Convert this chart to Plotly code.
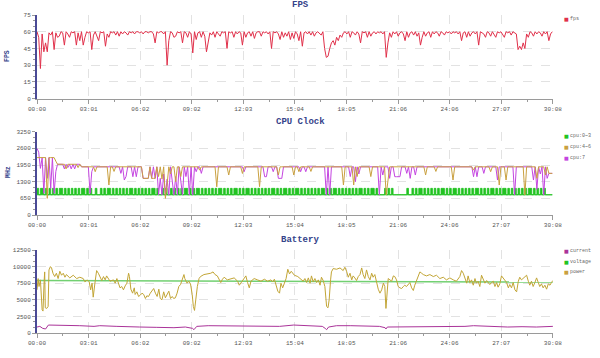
import plotly.graph_objects as go

# ---------------- data ----------------
tick_secs = [0, 181, 362, 542, 723, 904, 1085, 1266, 1446, 1627, 1808]
tick_text = ["00:00", "03:01", "06:02", "09:02", "12:03", "15:04",
             "18:05", "21:06", "24:06", "27:07", "30:08"]
step_sec = 6  # sampling interval of fps / cpu series

fps = [
    60, 55, 27, 58, 42, 50, 42, 59, 57, 60, 44, 59, 55, 56, 60, 59, 48, 60, 58, 55,
    60, 59, 60, 48, 59, 52, 60, 48, 55, 60, 59, 60, 44, 57, 60, 56, 52, 60, 59, 60,
    47, 58, 55, 60, 59, 60, 57, 60, 56, 60, 58, 60, 59, 57, 60, 59, 60, 58, 60, 60,
    59, 60, 58, 60, 60, 59, 60, 60, 58, 50, 60, 59, 60, 60, 58, 60, 30, 52, 60, 59,
    55, 56, 60, 59, 60, 50, 60, 59, 55, 60, 58, 41, 60, 53, 59, 60, 55, 60, 56, 42,
    52, 59, 57, 60, 55, 60, 58, 56, 60, 59, 60, 45, 60, 59, 60, 55, 60, 58, 60, 59,
    48, 60, 55, 59, 60, 56, 60, 54, 59, 60, 60, 56, 60, 59, 60, 58, 60, 45, 60, 59,
    60, 58, 53, 60, 55, 59, 56, 60, 53, 59, 54, 60, 58, 52, 60, 47, 59, 60, 58, 60,
    57, 60, 56, 59, 60, 58, 57, 60, 45, 37, 38, 45, 50, 52, 48, 55, 52, 57, 55, 59,
    60, 58, 60, 55, 60, 59, 57, 60, 58, 50, 60, 59, 60, 55, 60, 56, 59, 60, 58, 60,
    59, 60, 58, 60, 37, 50, 59, 55, 60, 58, 60, 56, 59, 60, 58, 52, 60, 55, 59, 60,
    57, 60, 56, 59, 48, 55, 60, 56, 59, 60, 55, 60, 58, 60, 59, 56, 60, 59, 57, 60,
    59, 60, 58, 60, 59, 60, 58, 60, 52, 59, 60, 55, 60, 56, 59, 60, 58, 60, 48, 60,
    59, 58, 55, 60, 59, 56, 60, 58, 55, 60, 59, 60, 58, 55, 60, 59, 60, 57, 60, 59,
    58, 44, 47, 44, 50, 45, 58, 55, 60, 59, 56, 60, 58, 60, 59, 56, 60, 58, 60, 52,
    58, 60,
]

# cpu 0~3 toggles between a high and a low clock
cpu_low = 790
cpu_0_3 = [
    1040, 790, 1040, 1040, 790, 1040, 790, 1040, 790, 1040,
    790, 1040, 790, 1040, 1040, 790, 1040, 790, 1040, 790,
    1040, 790, 1040, 790, 1040, 790, 1040, 1040, 790, 1040,
    790, 1040, 790, 790, 1040, 790, 790, 1040, 790, 1040,
    790, 1040, 1040, 790, 1040, 790, 1040, 790, 1040, 790,
    1040, 790, 1040, 790, 1040, 1040, 790, 1040, 790, 1040,
    790, 1040, 790, 1040, 790, 1040, 790, 1040, 1040, 790,
    1040, 790, 790, 1040, 790, 1040, 790, 790, 1040, 790,
    1040, 790, 1040, 790, 1040, 790, 1040, 1040, 790, 1040,
    790, 1040, 790, 1040, 1040, 790, 1040, 790, 1040, 790,
    1040, 790, 1040, 790, 1040, 790, 1040, 1040, 790, 1040,
    790, 1040, 790, 1040, 790, 1040, 1040, 790, 1040, 790,
    1040, 790, 1040, 1040, 790, 1040, 790, 1040, 790, 1040,
    790, 1040, 790, 1040, 790, 1040, 790, 1040, 1040, 790,
    1040, 790, 1040, 790, 1040, 1040, 790, 1040, 790, 1040,
    790, 1040, 1040, 790, 1040, 790, 1040, 790, 1040, 790,
    1040, 790, 1040, 790, 1040, 790, 1040, 1040, 790, 1040,
    790, 1040, 790, 1040, 1040, 790, 1040, 790, 1040, 790,
    1040, 790, 1040, 790, 1040, 790, 1040, 790, 1040, 1040,
    790, 1040, 790, 1040, 790, 1040, 1040, 790, 1040, 790,
    790, 790, 790, 1040, 790, 1040, 790, 1040, 790, 790,
    790, 790, 790, 790, 790, 790, 1040, 790, 790, 1040,
    790, 1040, 790, 1040, 1040, 790, 1040, 790, 1040, 790,
    1040, 790, 1040, 790, 1040, 790, 1040, 1040, 790, 1040,
    790, 1040, 790, 1040, 1040, 790, 1040, 790, 1040, 790,
    1040, 790, 1040, 790, 1040, 790, 1040, 1040, 790, 1040,
    790, 1040, 790, 1040, 790, 1040, 1040, 790, 1040, 790,
    1040, 790, 1040, 1040, 790, 1040, 790, 1040, 790, 1040,
    790, 1040, 790, 1040, 790, 1040, 790, 1040, 1040, 790,
    1040, 790, 1040, 790, 1040, 790, 1040, 790, 790, 790,
    790, 790,
]

cpu_4_6 = [
    2240, 2240, 2240, 2240, 2240, 2240, 650, 2240, 2240, 2240,
    2240, 2100, 1980, 1980, 1980, 1980, 1980, 1800, 1980, 1980,
    1980, 1980, 1980, 1980, 1850, 1980, 1880, 1880, 1880, 1880,
    1880, 1880, 1880, 1880, 1690, 1880, 1880, 1880, 1880, 1880,
    1880, 1880, 1170, 1880, 1880, 1700, 1880, 1880, 1880, 1880,
    1880, 1880, 1880, 1880, 1880, 1880, 1880, 1880, 1880, 1880,
    1880, 1880, 1430, 1430, 1430, 1430, 1880, 1430, 1430, 1430,
    1880, 1500, 1880, 1400, 1880, 650, 1200, 1880, 1600, 1880,
    1880, 1300, 1880, 1880, 1500, 1880, 1880, 1880, 1880, 1880,
    1880, 1880, 1880, 1880, 1880, 1750, 1880, 1880, 1880, 1880,
    1880, 1880, 1880, 1880, 1880, 1100, 1880, 1880, 1880, 1880,
    1880, 1880, 1560, 1880, 1880, 1880, 1880, 1880, 1880, 1880,
    1620, 1880, 1880, 1880, 1880, 1880, 1880, 1880, 1880, 1880,
    1105, 1880, 1880, 1880, 1880, 1880, 1880, 1880, 1880, 1880,
    1880, 1560, 1880, 1880, 1880, 1880, 1880, 1880, 1880, 1880,
    1560, 1880, 1880, 1690, 1880, 1880, 1880, 1880, 1880, 1880,
    1700, 1880, 1880, 1880, 1880, 1880, 1880, 1880, 1880, 1880,
    1880, 1880, 1880, 1880, 1880, 1880, 1880, 1880, 1880, 1170,
    1880, 1880, 1880, 1880, 1880, 1170, 1880, 1500, 1880, 1880,
    1880, 1880, 1880, 1880, 1880, 1500, 1880, 1880, 1880, 1880,
    1880, 1880, 1880, 1880, 780, 1400, 1880, 1880, 1880, 1880,
    1880, 1880, 1880, 1880, 1880, 1880, 1880, 1880, 1880, 1880,
    1880, 1880, 1880, 1880, 1880, 1880, 1880, 1560, 1880, 1880,
    1880, 1880, 1880, 1700, 1880, 1880, 1880, 1880, 1880, 1880,
    1880, 1880, 1880, 1365, 1880, 1880, 1880, 1880, 1880, 1880,
    1880, 1880, 1880, 1880, 1880, 1750, 1880, 1880, 1880, 1880,
    1880, 1880, 1880, 1880, 1880, 1690, 1880, 1880, 1880, 1880,
    1170, 1880, 1880, 1880, 1365, 1880, 1880, 1880, 1880, 1880,
    1880, 1880, 1880, 1880, 1880, 780, 1880, 1880, 1880, 1880,
    1880, 1880, 1430, 1880, 1880, 1880, 1880, 1560, 1880, 1625,
    1625, 1625,
]

cpu_7 = [
    2600, 2450, 1820, 2240, 845, 2240, 1430, 2240, 1040, 2240,
    845, 1700, 1980, 1980, 1980, 1980, 1800, 1980, 1850, 1980,
    1800, 1980, 1800, 1980, 1980, 1980, 1880, 1880, 1880, 1880,
    1880, 845, 1690, 1880, 1880, 1880, 1880, 1880, 1880, 1880,
    1880, 1880, 1880, 1880, 1880, 1880, 1880, 1880, 1880, 1625,
    1880, 1365, 1500, 1880, 1880, 1880, 1495, 1880, 1495, 1880,
    1880, 1880, 1430, 1430, 1430, 1430, 1880, 1430, 1880, 1430,
    1880, 780, 1430, 780, 1600, 780, 1400, 780, 1880, 1200,
    780, 1500, 780, 1880, 1400, 780, 1880, 1500, 1880, 780,
    1880, 780, 1880, 1690, 1880, 1880, 1625, 1880, 1880, 1880,
    1880, 1880, 1880, 1880, 1880, 1880, 1880, 1880, 1880, 1880,
    1880, 1880, 1880, 1880, 1880, 1880, 1880, 1880, 1880, 1880,
    1880, 1690, 1880, 1880, 1880, 1880, 1880, 1880, 1880, 1880,
    1880, 1880, 1880, 1495, 1495, 1880, 1880, 1880, 1690, 1880,
    1880, 1430, 1430, 1430, 1880, 1880, 1880, 1880, 1880, 1880,
    1880, 1880, 1880, 1880, 1690, 1880, 1880, 1690, 1880, 1880,
    1880, 1880, 1880, 1880, 1880, 1880, 1880, 1880, 1880, 780,
    1880, 780, 1880, 1880, 1880, 1880, 1880, 1880, 1880, 1880,
    1880, 1880, 1880, 1500, 1880, 1880, 1300, 1880, 1600, 1880,
    1880, 1880, 1880, 1880, 1880, 1880, 1880, 1880, 1880, 1880,
    780, 1880, 1560, 1880, 1880, 1880, 1430, 1880, 1880, 1495,
    1495, 1495, 1495, 1880, 1880, 1880, 1625, 1880, 1430, 1880,
    1880, 1560, 1880, 1880, 1880, 1880, 1880, 1880, 1880, 1880,
    1880, 1880, 1880, 1880, 1880, 1880, 1880, 1880, 1880, 1880,
    1880, 1880, 1880, 1880, 1880, 1880, 1880, 1880, 1880, 1880,
    1880, 1880, 1880, 1880, 1880, 1495, 1880, 1495, 1880, 1880,
    1880, 1625, 1880, 1880, 1880, 1880, 1880, 1880, 1880, 1365,
    1880, 1880, 1880, 1880, 1880, 1880, 1880, 1880, 1880, 780,
    1880, 1880, 1880, 1880, 1880, 1880, 1880, 1880, 1880, 1880,
    1365, 1880, 1000, 1880, 1600, 1880, 780, 1880, 1430, 1625,
    1625, 1625,
]

power_t = [
    0, 4, 7, 12, 18, 21, 25, 27, 29, 34, 39, 42, 47, 51, 56, 62, 68, 74, 80, 86,
    92, 98, 103, 115, 127, 139, 150, 162, 168, 176, 183, 188, 193, 197, 203, 209,
    215, 221, 227, 233, 239, 244, 250, 256, 268, 274, 280, 286, 291, 297, 303, 309,
    315, 321, 324, 329, 335, 341, 344, 350, 356, 362, 368, 374, 380, 385, 391, 397,
    403, 409, 415, 421, 427, 432, 438, 444, 450, 456, 462, 468, 474, 479, 485, 491,
    497, 503, 509, 515, 518, 522, 526, 532, 538, 544, 548, 552, 557, 562, 568, 573,
    585, 597, 609, 617, 624, 632, 638, 644, 650, 656, 667, 679, 691, 703, 709, 714,
    726, 732, 738, 744, 750, 761, 773, 785, 797, 808, 820, 826, 832, 844, 850, 855,
    861, 867, 873, 879, 885, 891, 902, 914, 922, 933, 939, 945, 951, 957, 962, 968,
    974, 980, 986, 992, 997, 1003, 1009, 1015, 1020, 1024, 1029, 1032, 1038, 1050,
    1062, 1073, 1079, 1085, 1091, 1097, 1103, 1108, 1114, 1120, 1126, 1132, 1138,
    1143, 1149, 1155, 1161, 1167, 1173, 1178, 1184, 1190, 1196, 1202, 1208, 1214,
    1219, 1223, 1228, 1231, 1237, 1243, 1249, 1254, 1260, 1266, 1272, 1278, 1284,
    1289, 1295, 1301, 1307, 1313, 1319, 1324, 1330, 1336, 1342, 1348, 1354, 1365,
    1377, 1389, 1400, 1412, 1424, 1435, 1447, 1459, 1470, 1482, 1488, 1494, 1500,
    1506, 1511, 1517, 1523, 1529, 1535, 1540, 1546, 1552, 1558, 1564, 1570, 1576,
    1581, 1587, 1593, 1599, 1605, 1611, 1616, 1622, 1628, 1634, 1640, 1646, 1652,
    1657, 1663, 1669, 1675, 1681, 1687, 1692, 1698, 1704, 1710, 1716, 1722, 1727,
    1733, 1739, 1745, 1751, 1757, 1762, 1768, 1774, 1780, 1786, 1792, 1798, 1803,
    1808,
]
power_v = [
    6500, 8200, 7000, 8000, 3500, 3300, 7800, 9200, 3800, 3700, 4000, 9500, 10000,
    9800, 9000, 8500, 9000, 8200, 9300, 8700, 9000, 8400, 8800, 8300, 8700, 8200,
    8400, 8200, 7700, 8000, 7700, 6500, 7500, 5400, 7500, 9400, 9000, 8500, 7900,
    8500, 8000, 8600, 8200, 7800, 8000, 7500, 8200, 7200, 6800, 7000, 6500, 7100,
    7500, 9000, 8500, 6600, 6000, 6800, 5800, 6200, 5500, 5700, 6000, 5800, 5200,
    5600, 5500, 6000, 6300, 6700, 6000, 5500, 6600, 5200, 5000, 6200, 5300, 5800,
    6300, 5200, 5500, 5200, 5300, 6000, 7000, 7300, 8000, 8800, 8200, 7900, 7500,
    7800, 7400, 5800, 4000, 3400, 5500, 7000, 8200, 8500, 8800, 8900, 9000, 9200,
    8800, 8600, 8200, 7600, 8100, 8400, 8000, 8100, 8300, 7800, 7200, 7500, 8200,
    8600, 7600, 6800, 7800, 8200, 8000, 7800, 8100, 7800, 8000, 7700, 8100, 6300,
    6000, 7500, 6800, 7600, 8200, 9600, 8900, 9300, 8700, 8500, 8200, 7800, 8200,
    7600, 8300, 7500, 8600, 7700, 8200, 7600, 8000, 7200, 8400, 7900, 7000, 4000,
    3800, 5000, 8000, 9200, 9700, 9600, 9800, 9400, 9900, 9300, 8400, 9000, 8000,
    8600, 8300, 7900, 8500, 8800, 9800, 8800, 8200, 9500, 8500, 8000, 9000, 8400,
    8800, 7500, 6600, 6000, 6500, 7500, 7000, 3700, 7500, 8200, 8000, 7800, 8600,
    8500, 8000, 7000, 6800, 6700, 7000, 7200, 7000, 7300, 7600, 6800, 6400, 7200,
    7800, 8500, 9200, 9000, 8800, 8600, 8800, 8500, 8700, 8200, 8400, 8000, 8300,
    8000, 7800, 8500, 9400, 9000, 8200, 7500, 8600, 7600, 8000, 7200, 8200, 7500,
    7800, 7000, 8700, 8000, 7500, 7900, 7600, 7300, 7600, 7800, 7000, 7600, 6900,
    7400, 8600, 8200, 8000, 7600, 6800, 7300, 6800, 7600, 6500, 6200, 7800, 8400,
    8000, 8200, 8500, 8700, 7800, 7200, 7800, 7000, 7600, 8300, 7600, 7000, 7400,
    6800, 7200, 6600, 7400, 7200, 7600, 7900,
]

current_t = [0, 10, 20, 30, 40, 60, 100, 150, 200, 220, 280, 330, 360, 420, 480,
             520, 545, 550, 560, 600, 700, 760, 800, 850, 900, 950, 1000, 1010,
             1015, 1022, 1050, 1100, 1150, 1200, 1220, 1223, 1228, 1280, 1350,
             1400, 1450, 1500, 1530, 1600, 1650, 1700, 1750, 1808]
current_v = [900, 1000, 700, 600, 1200, 1200, 1100, 1100, 1000, 1100, 1000, 1000,
             900, 850, 800, 900, 700, 500, 1000, 1100, 1100, 1000, 1100, 1000,
             1200, 1100, 1000, 700, 500, 900, 1100, 1100, 1000, 1000, 800, 600,
             900, 900, 950, 1000, 1000, 1000, 1100, 1000, 900, 950, 900, 1000]

voltage_t = [0, 300, 600, 900, 1200, 1500, 1808]
voltage_v = [7900, 7870, 7820, 7780, 7740, 7700, 7680]

# ---------------- figure ----------------
C_FPS = "#e0304a"
C_G = "#22c322"
C_O = "#c9a040"
C_P = "#c445e0"
C_CUR = "#aa3399"
C_VOL = "#72d072"
C_PW = "#c2a535"

x_fps = [i * step_sec for i in range(len(fps))]
x_c03 = [i * step_sec for i in range(len(cpu_0_3))]
x_c46 = [i * step_sec for i in range(len(cpu_4_6))]
x_c7 = [i * step_sec for i in range(len(cpu_7))]

fig = go.Figure()
fig.add_trace(go.Scatter(x=x_fps, y=fps, mode="lines", name="fps",
                         line=dict(color=C_FPS, width=1), xaxis="x", yaxis="y"))
# low-clock baseline, then the toggling cpu 0~3 filled down to it
fig.add_trace(go.Scatter(x=[x_c03[0], x_c03[-1]], y=[cpu_low, cpu_low], mode="lines",
                         line=dict(color=C_G, width=1), hoverinfo="skip",
                         xaxis="x2", yaxis="y2"))
fig.add_trace(go.Scatter(x=x_c03, y=cpu_0_3, mode="lines", name="cpu:0~3",
                         line=dict(color=C_G, width=0.8, shape="hv"),
                         fill="tonexty", fillcolor=C_G, xaxis="x2", yaxis="y2"))
fig.add_trace(go.Scatter(x=x_c7, y=cpu_7, mode="lines", name="cpu:7",
                         line=dict(color=C_P, width=1), xaxis="x2", yaxis="y2"))
fig.add_trace(go.Scatter(x=x_c46, y=cpu_4_6, mode="lines", name="cpu:4~6",
                         line=dict(color=C_O, width=1), xaxis="x2", yaxis="y2"))
fig.add_trace(go.Scatter(x=current_t, y=current_v, mode="lines", name="current",
                         line=dict(color=C_CUR, width=1), xaxis="x3", yaxis="y3"))
fig.add_trace(go.Scatter(x=voltage_t, y=voltage_v, mode="lines", name="voltage",
                         line=dict(color=C_VOL, width=1.5), xaxis="x3", yaxis="y3"))
fig.add_trace(go.Scatter(x=power_t, y=power_v, mode="lines", name="power",
                         line=dict(color=C_PW, width=1), xaxis="x3", yaxis="y3"))

TICKFONT = dict(family="Liberation Mono", size=6, color="#555555")
GRID = "#e2e2e2"


def xax(anchor):
    return dict(anchor=anchor, domain=[0, 1], range=[0, 1808.5],
                tickmode="array", tickvals=tick_secs, ticktext=tick_text,
                showgrid=True, gridcolor=GRID, griddash="dash", gridwidth=1,
                showline=True, linecolor="#9a9a9a", linewidth=1,
                ticks="outside", ticklen=4, tickcolor="#9a9a9a",
                minor=dict(tickmode="linear", tick0=90.4, dtick=180.8,
                           ticks="outside", ticklen=2, tickcolor="#9a9a9a", showgrid=False),
                tickfont=TICKFONT, zeroline=False, fixedrange=True, automargin=False)


def yax(anchor, dom, top, dt, mdt):
    return dict(anchor=anchor, domain=dom, range=[0, top], dtick=dt, tick0=0,
                tickformat="d",
                showgrid=True, gridcolor=GRID, griddash="dash", gridwidth=1,
                showline=True, linecolor="#4a4a96", linewidth=2,
                ticks="outside", ticklen=3, tickcolor="#9a9a9a",
                minor=dict(tickmode="linear", tick0=0, dtick=mdt, ticks="outside",
                           ticklen=2, tickcolor="#9a9a9a", showgrid=False),
                tickfont=TICKFONT, zeroline=False, fixedrange=True, automargin=False)


fig.update_layout(
    width=600, height=358,
    margin=dict(l=37, r=47, t=15, b=25),
    paper_bgcolor="white", plot_bgcolor="white",
    showlegend=False,
    xaxis=xax("y"), yaxis=yax("x", [0.737, 1.0], 75, 15, 5),
    xaxis2=xax("y2"), yaxis2=yax("x2", [0.371, 0.633], 3250, 650, 650 / 3),
    xaxis3=xax("y3"), yaxis3=yax("x3", [0.0, 0.261], 12500, 2500, 2500 / 3),
)


def px_x(px):
    return (px - 37) / 516.0


def px_y(py):
    return (333 - py) / 318.0


TITLE_FONT = dict(family="Liberation Mono", size=9, color="#35438a")
anns = []
for txt, ypx in [("FPS", 5), ("CPU Clock", 122), ("Battery", 240)]:
    anns.append(dict(text="<b>%s</b>" % txt, x=px_x(300), y=px_y(ypx), xref="paper",
                     yref="paper", xanchor="center", yanchor="middle", showarrow=False,
                     font=TITLE_FONT))
for txt, ypx in [("FPS", 56), ("MHz", 172)]:
    anns.append(dict(text="<b>%s</b>" % txt, x=px_x(8), y=px_y(ypx), xref="paper",
                     yref="paper", xanchor="center", yanchor="middle", showarrow=False,
                     textangle=-90,
                     font=dict(family="Liberation Mono", size=6.5, color="#35438a")))

LEG_FONT = dict(family="Liberation Mono", size=5, color="#666666")
legend_items = [
    ("fps", C_FPS, 19),
    ("cpu:0~3", C_G, 136), ("cpu:4~6", C_O, 147), ("cpu:7", C_P, 157.7),
    ("current", C_CUR, 251), ("voltage", "#22c322", 261.7), ("power", C_O, 272.3),
]
for name, col, ypx in legend_items:
    anns.append(dict(text="■", x=px_x(566), y=px_y(ypx), xref="paper", yref="paper",
                     xanchor="center", yanchor="middle", showarrow=False, borderpad=0,
                     font=dict(family="DejaVu Sans", size=5, color=col)))
    anns.append(dict(text=name, x=px_x(569), y=px_y(ypx), xref="paper", yref="paper",
                     xanchor="left", yanchor="middle", showarrow=False, borderpad=0,
                     font=LEG_FONT))
fig.update_layout(annotations=anns)

fig.write_html("out.html", config={"displayModeBar": False},
               post_script="document.body.style.margin='0';")
